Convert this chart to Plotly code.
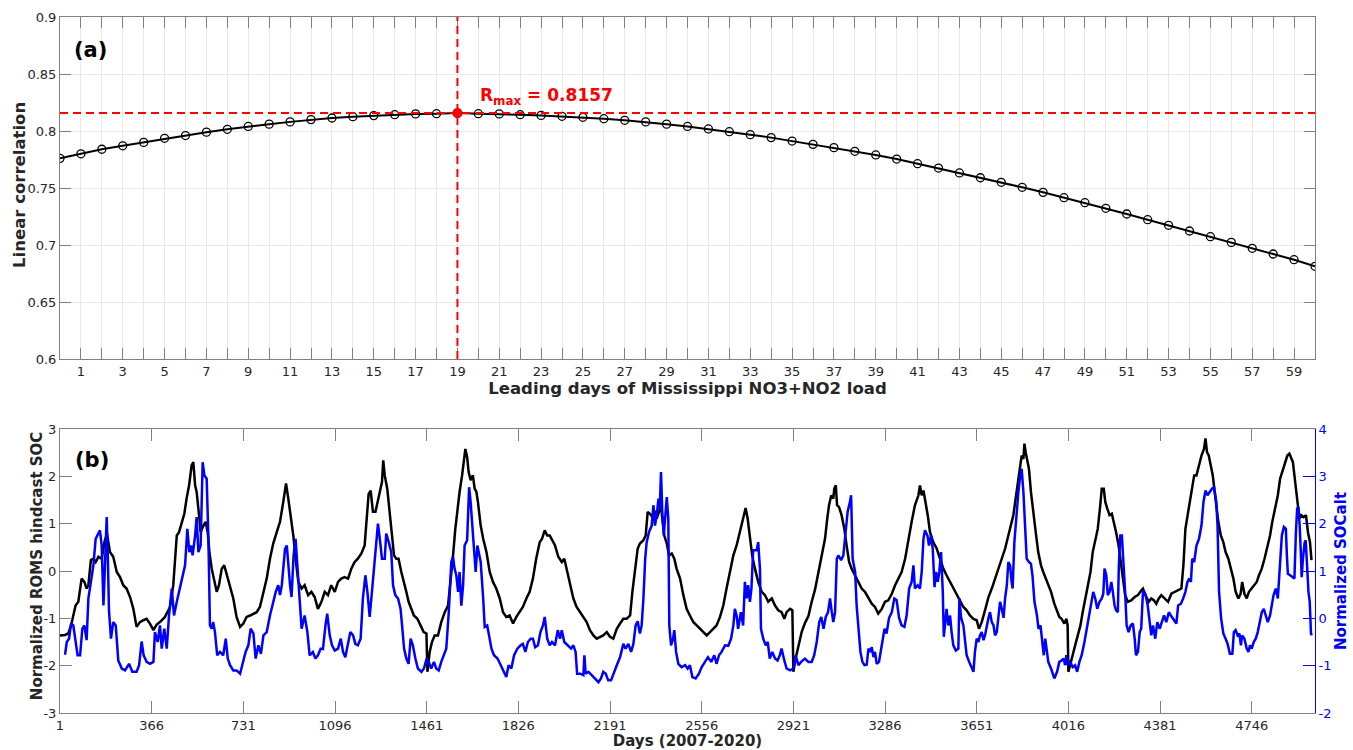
import plotly.graph_objects as go

# ---------------- panel (a) data ----------------
lead_days = list(range(0, 61))
lin_corr = [0.776, 0.780, 0.784, 0.787, 0.790, 0.7936, 0.796, 0.799, 0.8015, 0.804,
            0.806, 0.808, 0.810, 0.8114, 0.8126, 0.8135, 0.8143, 0.815, 0.8152, 0.8157,
            0.8152, 0.815, 0.8143, 0.8137, 0.8129, 0.812, 0.8108, 0.8094, 0.808, 0.806,
            0.804, 0.8018, 0.7994, 0.7968, 0.7942, 0.7912, 0.7883, 0.7854, 0.7822, 0.779,
            0.7754, 0.7713, 0.7675, 0.7632, 0.759, 0.755, 0.7506, 0.7462, 0.7415, 0.7371,
            0.7322, 0.7272, 0.7222, 0.7173, 0.7123, 0.7073, 0.7023, 0.6971, 0.6921, 0.6871,
            0.6813]
lead_ticktext = [str(d) if d % 2 == 1 else "" for d in lead_days]
corr_ticks = [0.6, 0.65, 0.7, 0.75, 0.8, 0.85, 0.9]

# ---------------- panel (b) data ----------------
soc_days = [1, 21, 34, 45, 54, 63, 74, 87, 98, 107, 114, 124, 134, 143, 154, 167, 178, 188, 200, 213,
            227, 240, 253, 266, 280, 293, 306, 319, 333, 346, 359, 373, 386, 399, 419, 439, 452, 466, 475, 486,
            496, 505, 515, 525, 532, 539, 545, 552, 561, 572, 581, 589, 596, 605, 616, 625, 634, 645, 655, 665,
            678, 691, 704, 718, 731, 744, 758, 771, 784, 797, 811, 824, 837, 850, 864, 877, 890, 901, 910, 919,
            930, 939, 950, 963,
            975, 989, 1002, 1015, 1028, 1042, 1055, 1068, 1081, 1095, 1108, 1121, 1134, 1148, 1161, 1174, 1187, 1201, 1214, 1220,
            1230, 1238, 1247, 1257, 1265, 1274, 1283, 1288, 1294, 1304, 1314, 1323, 1331, 1340, 1349, 1360, 1371, 1380, 1389, 1400,
            1410, 1424, 1437, 1449, 1460, 1464, 1473, 1482, 1493, 1506, 1519, 1533, 1546, 1555, 1566, 1575, 1583, 1592, 1602, 1610,
            1615, 1622, 1628, 1636, 1645, 1652, 1659, 1665, 1676, 1686, 1699, 1712, 1725, 1738, 1752, 1765, 1778, 1791, 1805, 1818,
            1831, 1844, 1858, 1871, 1884, 1897, 1911, 1920, 1931, 1941, 1951,
            1972, 1985, 1999, 2009, 2018, 2032, 2045, 2058, 2072, 2085, 2098, 2111, 2125, 2138, 2151, 2164, 2178, 2191, 2204, 2218,
            2231, 2244, 2257, 2271, 2280, 2290, 2301, 2310, 2324, 2333, 2341, 2350, 2360, 2367, 2377, 2386, 2394, 2399, 2407, 2417,
            2426, 2437, 2447, 2456, 2470, 2483, 2496, 2509, 2523, 2536, 2549, 2562, 2576, 2589, 2602, 2615, 2629, 2642, 2655, 2669,
            2682, 2695, 2708, 2722, 2731, 2739, 2748, 2757, 2768, 2781, 2795, 2808, 2821, 2835, 2848, 2861, 2874, 2885, 2894, 2908,
            2917, 2921, 2930, 2941, 2954,
            2967, 2981, 2994, 3007, 3021, 3034, 3047, 3056, 3063, 3072, 3080, 3084, 3090, 3095, 3103, 3113, 3124, 3133, 3143, 3153,
            3167, 3180, 3193, 3206, 3220, 3233, 3246, 3259, 3273, 3286, 3299, 3313, 3326, 3339, 3352, 3366, 3379, 3392, 3405, 3419,
            3425, 3432, 3439, 3445, 3456, 3465, 3478, 3492, 3505, 3518, 3531, 3545, 3558, 3571, 3585, 3598, 3611, 3624, 3638, 3651,
            3660, 3671, 3684, 3698, 3711, 3724, 3737, 3751, 3764, 3777, 3788, 3797, 3806, 3814, 3823, 3830, 3837, 3841, 3846, 3854,
            3859, 3867, 3877, 3886, 3896, 3907, 3916, 3926, 3936, 3947,
            3960, 3971, 3980, 3989, 4000, 4008, 4013, 4016, 4024, 4033, 4043, 4053, 4064, 4073, 4083, 4093, 4104, 4113, 4123, 4133,
            4143, 4149, 4157, 4163, 4171, 4180, 4189, 4197, 4206, 4216, 4224, 4233, 4242, 4253, 4266, 4280, 4293, 4306, 4313, 4320,
            4326, 4336, 4346, 4357, 4366, 4376, 4386, 4400, 4413, 4426, 4440, 4453, 4466, 4474, 4482, 4493, 4506, 4517, 4526, 4536,
            4546, 4556, 4562, 4568, 4575, 4583, 4591, 4597, 4605, 4613, 4623, 4633, 4642, 4653, 4663, 4673, 4682, 4693, 4702, 4708,
            4717, 4726, 4735, 4746, 4757, 4766, 4775, 4786, 4797, 4807, 4819, 4828, 4839, 4850, 4859, 4868, 4879, 4888, 4896, 4903,
            4910, 4916, 4923, 4930, 4936, 4943, 4952, 4962, 4970, 4978, 4984]
soc_vals = [-1.36, -1.35, -1.32, -1.15, -0.94, -0.73, -0.65, -0.16, -0.23, -0.37, -0.30, 0.23, 0.26, 0.19, 0.30, 0.26, 0.61, 0.79, 0.40, 0.30,
            -0.02, -0.13, -0.30, -0.37, -0.55, -0.80, -1.18, -1.08, -1.04, -1.01, -1.11, -1.25, -1.13, -1.08, -0.97, -0.76, -0.30, 0.75, 0.82, 1.04,
            1.21, 1.53, 1.81, 2.23, 2.30, 1.81, 1.67, 1.32, 0.82, 0.96, 1.04, 0.82, 0.40, 0.05, -0.23, -0.44, -0.30, 0.05, 0.12, -0.09,
            -0.37, -0.58, -0.97, -1.18, -1.11, -0.97, -0.94, -0.90, -0.87, -0.76, -0.44, -0.16, 0.26, 0.58, 0.82, 1.04, 1.46, 1.85, 1.53, 1.18,
            0.75, 0.26, -0.23, -0.37,
            -0.30, -0.51, -0.44, -0.55, -0.80, -0.65, -0.44, -0.51, -0.30, -0.44, -0.23, -0.16, -0.13, -0.16, 0.05, 0.19, 0.26, 0.37, 0.54, 0.96,
            1.63, 1.70, 1.25, 1.25, 1.46, 1.67, 1.88, 2.34, 2.02, 1.74, 1.25, 0.75, 0.33, 0.26, 0.26, -0.02, -0.23, -0.44, -0.65, -0.80,
            -0.94, -1.01, -1.15, -1.29, -1.32, -2.13, -1.71, -1.50, -1.36, -1.36, -1.08, -0.87, -0.73, -0.30, 0.33, 0.89, 1.32, 1.67, 2.02, 2.37,
            2.58, 2.41, 2.09, 1.92, 2.02, 1.74, 1.67, 1.46, 0.96, 0.68, 0.40, -0.02, -0.23, -0.37, -0.58, -0.87, -0.97, -0.94, -1.11, -0.97,
            -0.87, -0.76, -0.58, -0.44, -0.16, 0.26, 0.61, 0.68, 0.86, 0.75, 0.75,
            0.54, 0.30, 0.19, 0.26, 0.05, -0.30, -0.58, -0.76, -0.87, -0.97, -1.08, -1.25, -1.36, -1.43, -1.39, -1.36, -1.29, -1.39, -1.43, -1.22,
            -1.11, -1.01, -1.01, -0.94, -0.44, 0.05, 0.47, 0.58, 0.65, 0.75, 1.25, 1.21, 1.14, 1.28, 1.11, 1.25, 1.39, 1.11, 0.75, 0.58,
            0.33, 0.37, 0.26, 0.05, -0.16, -0.51, -0.80, -0.94, -1.08, -1.15, -1.22, -1.29, -1.36, -1.29, -1.22, -1.15, -0.97, -0.73, -0.37, -0.02,
            0.33, 0.54, 0.82, 1.18, 1.33, 1.11, 0.75, 0.33, 0.05, -0.23, -0.44, -0.51, -0.65, -0.58, -0.73, -0.83, -0.87, -1.01, -0.87, -0.80,
            -0.83, -2.13, -1.85, -1.57, -1.29,
            -1.10, -0.95, -0.65, -0.40, -0.02, 0.33, 0.68, 1.11, 1.39, 1.60, 1.53, 1.74, 1.81, 1.39, 1.35, 1.18, 0.89, 0.54, 0.19, 0.05,
            -0.09, -0.23, -0.37, -0.44, -0.58, -0.69, -0.76, -0.90, -0.80, -0.65, -0.62, -0.48, -0.30, -0.16, -0.02, 0.26, 0.68, 1.04, 1.39, 1.60,
            1.81, 1.60, 1.70, 1.53, 1.18, 0.82, 0.61, 0.47, 0.26, 0.05, -0.09, -0.23, -0.37, -0.51, -0.65, -0.76, -0.83, -0.94, -1.01, -1.04,
            -1.22, -1.08, -0.83, -0.55, -0.37, -0.16, 0.05, 0.30, 0.47, 0.75, 0.96, 1.18, 1.53, 1.81, 2.09, 2.44, 2.37, 2.69, 2.51, 2.23,
            2.16, 1.67, 1.18, 0.82, 0.40, 0.12, -0.02, -0.16, -0.30, -0.44,
            -0.69, -0.87, -0.97, -1.01, -1.11, -1.01, -1.15, -2.13, -1.99, -1.78, -1.57, -1.36, -1.15, -0.87, -0.58, -0.30, -0.02, 0.40, 0.68, 0.89,
            1.39, 1.74, 1.74, 1.46, 1.32, 1.18, 1.21, 1.04, 0.82, 0.54, 0.19, -0.23, -0.51, -0.65, -0.62, -0.55, -0.51, -0.41, -0.37, -0.48,
            -0.55, -0.65, -0.58, -0.62, -0.69, -0.58, -0.51, -0.58, -0.65, -0.48, -0.44, -0.41, -0.37, 0.12, 0.89, 1.25, 1.67, 2.02, 2.02, 2.23,
            2.44, 2.58, 2.80, 2.51, 2.44, 2.23, 2.02, 1.74, 1.39, 1.04, 0.75, 0.61, 0.40, 0.26, 0.05, -0.16, -0.44, -0.58, -0.48, -0.23,
            -0.48, -0.58, -0.44, -0.37, -0.30, -0.23, -0.09, 0.05, 0.26, 0.47, 0.75, 1.04, 1.32, 1.60, 1.95, 2.09, 2.27, 2.44, 2.48, 2.37,
            2.30, 2.02, 1.74, 1.39, 1.11, 1.18, 1.14, 1.18, 0.82, 0.61, 0.23]

socalt_days = [21, 28, 37, 45, 54, 63, 71, 81, 90, 98, 107, 114, 123, 134, 143, 154, 160, 167, 174, 180,
               187, 191, 196, 204, 213, 223, 233, 247, 260, 276, 289, 306, 316, 326, 334, 346, 359, 373, 379, 390,
               399, 406, 416, 426, 435, 446, 455, 466, 475, 486, 499, 508, 516, 523, 529, 539, 545, 552, 561, 569,
               576, 585, 592, 598, 605, 611, 618, 627, 638, 651, 661, 669, 678, 691, 704, 718, 727, 740, 751, 760,
               771, 780, 791, 801, 811, 824, 837, 850, 860, 870, 877, 884, 890, 897, 904, 910, 917, 923, 931, 939,
               947, 956, 963,
               975, 986, 995, 1008, 1018, 1028, 1039, 1048, 1058, 1065, 1075, 1084, 1095, 1108, 1119, 1128, 1137, 1148, 1157, 1168,
               1177, 1187, 1198, 1207, 1217, 1225, 1234, 1243, 1254, 1261, 1267, 1275, 1283, 1294, 1300, 1310, 1320, 1327, 1336, 1347,
               1357, 1363, 1371, 1380, 1389, 1397, 1406, 1416, 1426, 1440, 1450, 1461, 1469, 1479, 1490, 1499, 1509, 1519, 1530, 1539,
               1549, 1559, 1566, 1572, 1579, 1586, 1592, 1599, 1606, 1612, 1622, 1630, 1636, 1643, 1650, 1656, 1663, 1668, 1676, 1686,
               1692, 1702, 1710, 1719, 1729, 1743, 1756, 1769, 1778, 1787, 1798, 1809, 1822, 1835, 1844, 1854, 1864, 1875, 1884, 1893,
               1904, 1914, 1924, 1931, 1941, 1951, 1960,
               1972, 1983, 1992, 1999, 2009, 2023, 2036, 2045, 2054, 2060, 2072, 2085, 2089, 2094, 2105, 2118, 2131, 2145, 2155, 2164,
               2174, 2184, 2195, 2204, 2218, 2231, 2244, 2253, 2264, 2275, 2284, 2293, 2301, 2310, 2317, 2324, 2331, 2337, 2346, 2357,
               2364, 2370, 2377, 2384, 2389, 2394, 2399, 2405, 2410, 2417, 2423, 2427, 2434, 2442, 2447, 2454, 2463, 2476, 2490, 2500,
               2509, 2519, 2532, 2545, 2556, 2569, 2581, 2594, 2606, 2615, 2625, 2635, 2649, 2662, 2673, 2682, 2688, 2695, 2701, 2712,
               2721, 2728, 2735, 2741, 2748, 2754, 2761, 2768, 2775, 2781, 2788, 2792, 2801, 2811, 2819, 2827, 2837, 2848, 2858, 2867,
               2874, 2885, 2894, 2908, 2921, 2930, 2941, 2952,
               2967, 2981, 2994, 3004, 3014, 3024, 3032, 3041, 3050, 3059, 3067, 3074, 3080, 3087, 3094, 3100, 3111, 3120, 3127, 3137,
               3146, 3151, 3157, 3167, 3173, 3180, 3188, 3196, 3204, 3213, 3220, 3227, 3233, 3240, 3246, 3253, 3262, 3273, 3284, 3292,
               3302, 3313, 3323, 3332, 3342, 3352, 3363, 3372, 3382, 3392, 3399, 3405, 3416, 3425, 3432, 3439, 3445, 3455, 3461, 3469,
               3476, 3483, 3489, 3496, 3502, 3509, 3516, 3520, 3525, 3531, 3538, 3545, 3551, 3558, 3568, 3578, 3582, 3589, 3598, 3605,
               3611, 3621, 3631, 3638, 3644, 3651, 3658, 3664, 3671, 3678, 3684, 3691, 3698, 3704, 3711, 3718, 3724, 3731, 3737, 3744,
               3751, 3758, 3764, 3771, 3777, 3784, 3790, 3794, 3801, 3810, 3817, 3823, 3830, 3837, 3844, 3850, 3859, 3867, 3873, 3881,
               3891, 3897, 3905, 3913, 3918, 3924, 3930, 3936, 3947,
               3960, 3971, 3980, 3989, 3997, 4003, 4008, 4013, 4020, 4027, 4033, 4043, 4051, 4060, 4069, 4080, 4091, 4100, 4107, 4115,
               4123, 4131, 4140, 4149, 4155, 4160, 4167, 4173, 4180, 4187, 4193, 4200, 4206, 4213, 4217, 4223, 4229, 4236, 4242, 4248,
               4256, 4264, 4273, 4280, 4285, 4293, 4300, 4306, 4313, 4318, 4324, 4332, 4340, 4346, 4353, 4362, 4370, 4380, 4386, 4397,
               4406, 4416, 4424, 4433, 4440, 4446, 4453, 4464, 4473, 4482, 4490, 4497, 4504, 4509, 4517, 4526, 4536, 4546, 4554, 4562,
               4570, 4579, 4588, 4596, 4605, 4610, 4616, 4624, 4633, 4642, 4650, 4659, 4669, 4675, 4682, 4690, 4697, 4703, 4708, 4717,
               4726, 4733, 4739, 4746, 4754, 4762, 4770, 4778, 4786, 4794, 4802, 4810, 4819, 4826, 4833, 4842, 4850, 4855, 4860, 4866,
               4874, 4882, 4886, 4890, 4899, 4908, 4916, 4922, 4927, 4932, 4937, 4942, 4945, 4950, 4957, 4961, 4966, 4972, 4977, 4980,
               4982, 4985]
socalt_vals = [-0.77, -0.50, -0.43, -0.11, -0.15, -0.50, -0.78, -0.78, -0.22, -0.15, -0.46, 0.42, 0.77, 1.12, 1.68, 1.82, 1.86, 1.54, 0.27, 1.12,
               2.14, 1.40, 0.17, -0.43, -0.08, -0.15, -0.89, -1.06, -1.10, -0.96, -1.13, -1.13, -0.99, -0.49, -0.78, -0.92, -0.96, -0.92, -0.29, -0.50,
               -0.15, -0.64, -0.22, -0.64, 0.06, 0.63, 0.06, 0.35, 0.56, 0.77, 1.12, 1.89, 1.40, 1.54, 1.33, 1.75, 2.14, 1.40, 1.54, 3.30,
               3.02, 2.95, 1.68, -0.15, -0.22, -0.08, -0.29, -0.78, -0.71, -0.78, -0.43, -0.85, -0.99, -1.10, -1.10, -1.17, -0.99, -0.71, -0.57, -0.22,
               -0.32, -0.85, -0.57, -0.75, -0.36, -0.29, 0.06, 0.35, 0.56, 0.70, 0.49, 0.70, 1.12, 1.47, 1.54, 1.12, 0.70, 0.45, 1.33, 1.68,
               0.98, 0.45, -0.22,
               0.06, -0.29, -0.78, -0.71, -0.85, -0.78, -0.64, -0.65, -0.15, 0.10, -0.36, -0.57, -0.68, -0.64, -0.43, -0.71, -0.82, -0.50, -0.29, -0.36,
               -0.54, -0.57, -0.43, 0.42, 0.91, 0.56, 0.03, 0.56, 1.26, 1.75, 2.00, 1.65, 1.26, 1.26, 1.79, 1.61, 1.40, 0.70, 0.49, 0.42,
               0.20, -0.15, -0.64, -0.85, -0.96, -0.43, -0.57, -0.85, -1.06, -1.13, -1.06, -0.85, -0.92, -1.06, -0.92, -1.06, -1.10, -0.92, -0.78, -0.64,
               0.13, 1.19, 1.30, 1.05, 0.91, 0.56, 0.98, 0.27, 0.70, 1.54, 1.65, 2.77, 2.46, 1.96, 1.61, 0.98, 1.54, 1.40, 1.19, 0.42,
               -0.18, -0.15, -0.43, -0.64, -0.78, -0.85, -0.99, -1.13, -1.24, -0.99, -1.06, -0.78, -0.64, -0.57, -0.54, -0.71, -0.50, -0.43, -0.43, -0.61,
               -0.57, -0.29, -0.15, 0.03, -0.43, -0.57, -0.50,
               -0.57, -0.25, -0.43, -0.25, -0.50, -0.57, -0.64, -0.57, -0.71, -1.17, -1.17, -1.20, -0.78, -1.17, -1.13, -1.20, -1.27, -1.35, -1.27, -1.13,
               -1.17, -1.31, -1.31, -1.17, -0.99, -0.82, -0.54, -0.64, -0.54, -0.71, -0.54, -0.15, -0.06, -0.32, -0.15, 0.42, 1.26, 1.61, 1.82, 1.96,
               2.39, 1.96, 2.18, 2.53, 2.32, 3.09, 2.25, 1.75, 2.11, 2.56, 2.11, -0.15, -0.57, -0.43, -0.25, -0.71, -0.96, -1.03, -0.99, -1.06,
               -0.99, -1.24, -1.27, -1.17, -1.03, -0.92, -0.82, -0.92, -0.78, -0.96, -0.78, -0.71, -0.57, -0.58, -0.43, -0.15, 0.20, 0.06, -0.22, 0.13,
               -0.15, 0.77, 0.42, 0.70, 0.35, 0.63, 1.44, 1.44, 1.44, 1.61, 1.05, -0.22, -0.43, -0.57, -0.50, -0.85, -0.71, -0.85, -0.89, -0.78,
               -0.64, -0.89, -1.06, -1.10, -1.06, -0.78, -0.99, -0.92,
               -0.85, -0.92, -0.92, -0.78, -0.50, -0.08, 0.03, -0.22, 0.03, 0.13, 0.42, 0.13, -0.08, 0.13, 1.26, 1.33, 1.23, 1.33, 1.75, 2.25,
               2.46, 2.60, 1.26, 0.98, 0.27, -0.29, -0.71, -0.92, -0.99, -0.98, -0.64, -0.71, -0.61, -0.82, -0.71, -0.96, -0.92, -0.57, -0.22, -0.32,
               0.01, 0.13, 0.42, 0.39, 0.01, -0.15, -0.18, 0.06, 0.63, 0.77, 1.12, 0.63, 0.70, 0.63, 0.98, 1.68, 1.86, 1.75, 1.54, 1.75,
               1.47, 0.66, 0.98, 0.77, 0.98, 1.40, 0.56, -0.39, -0.15, 0.20, -0.15, 0.06, -0.29, -0.57, -0.68, -0.64, 0.42, 0.01, -0.15, -0.43,
               -0.78, -0.92, -1.06, -1.13, -0.71, -0.43, -0.50, -0.36, -0.29, -0.46, -0.36, -0.15, 0.01, 0.13, -0.08, -0.15, -0.36, -0.29, 0.01, 0.35,
               0.20, 0.01, 0.42, 0.70, 1.19, 1.12, 0.77, 0.63, 1.61, 2.25, 2.67, 2.95, 3.16, 2.67, 1.75, 1.26, 1.19, 1.15, 0.91, 0.35,
               0.06, -0.22, -0.15, -0.50, -0.78, -0.43, -0.64, -0.92, -1.06,
               -1.27, -1.13, -0.92, -0.89, -0.85, -0.99, -0.78, -0.99, -0.92, -0.96, -1.03, -0.99, -1.13, -0.92, -0.78, -0.50, -0.15, 0.13, 0.35, 0.56,
               0.42, 0.20, 0.35, 0.42, 0.52, 1.05, 0.91, 0.49, 0.56, 0.77, 0.56, 0.27, 0.17, 0.13, 1.12, 1.75, 1.75, 1.19, 0.56, -0.15,
               -0.29, -0.15, -0.11, -0.43, -0.78, -0.71, -0.29, -0.22, 0.56, 0.56, 0.49, 0.27, -0.08, -0.36, -0.15, -0.43, -0.08, -0.22, -0.11, 0.06,
               -0.08, 0.13, 0.06, -0.01, -0.08, -0.11, 0.27, 0.31, 0.42, 0.56, 0.77, 0.84, 0.77, 1.26, 1.19, 1.54, 1.68, 1.96, 2.46, 2.70,
               2.60, 2.67, 2.74, 2.77, 2.46, 1.96, 0.56, 0.01, -0.32, -0.43, -0.54, -0.75, -0.75, -0.29, -0.25, -0.36, -0.32, -0.57, -0.36, -0.43,
               -0.64, -0.71, -0.57, -0.64, -0.50, -0.43, -0.29, -0.08, 0.13, 0.20, 0.06, -0.08, 0.06, 0.31, 0.49, 0.63, 0.42, 0.84, 1.40, 1.75,
               1.93, 1.89, 1.33, 0.94, 0.91, 0.87, 0.84, 1.82, 2.32, 2.35, 1.96, 1.33, 0.87, 1.26, 1.61, 1.65, 1.12, 0.56, 0.35, -0.08,
               -0.32, -0.36]

day_ticks = [1, 366, 731, 1096, 1461, 1826, 2191, 2556, 2921, 3286, 3651, 4016, 4381, 4746]
soc_ticks = [-3, -2, -1, 0, 1, 2, 3]
socalt_ticks = [-2, -1, 0, 1, 2, 3, 4]

# ---------------- derived values ----------------
best_idx = max(range(len(lin_corr)), key=lambda i: lin_corr[i])
best_lead = lead_days[best_idx]
r_max = lin_corr[best_idx]

FONT = "DejaVu Sans"
AX = "#808080"
TXT = "#262626"
RED = "#ff0000"
BLUE = "#0000ff"

fig = go.Figure()

# panel (a)
fig.add_trace(go.Scatter(x=lead_days, y=lin_corr, mode="lines+markers",
                         line=dict(color="black", width=2),
                         marker=dict(symbol="circle-open", size=8, color="black",
                                     line=dict(width=1.3, color="black")),
                         xaxis="x", yaxis="y", showlegend=False))
fig.add_trace(go.Scatter(x=[best_lead], y=[r_max], mode="markers",
                         marker=dict(symbol="circle", size=10, color=RED),
                         xaxis="x", yaxis="y", showlegend=False))

fig.add_shape(type="line", xref="x", yref="y", x0=best_lead, x1=best_lead,
              y0=corr_ticks[0], y1=corr_ticks[-1], line=dict(color=RED, width=2, dash="8px,5px"))
fig.add_shape(type="line", xref="x", yref="y", x0=lead_days[0], x1=lead_days[-1],
              y0=r_max, y1=r_max, line=dict(color=RED, width=2, dash="8px,5px"))

# panel (b)
fig.add_trace(go.Scatter(x=soc_days, y=soc_vals, mode="lines",
                         line=dict(color="black", width=2.5),
                         xaxis="x2", yaxis="y2", showlegend=False))
fig.add_trace(go.Scatter(x=socalt_days, y=socalt_vals, mode="lines",
                         line=dict(color=BLUE, width=2.5),
                         xaxis="x2", yaxis="y3", showlegend=False))

tickfont = dict(family=FONT, size=13, color=TXT)
titlefont_a = dict(family=FONT, size=16.5, color=TXT)
titlefont_b = dict(family=FONT, size=15, color=TXT)

fig.update_layout(
    width=1353, height=750,
    margin=dict(l=60, r=38, t=17, b=37),
    paper_bgcolor="white", plot_bgcolor="white",
    font=dict(family=FONT, color=TXT),
    xaxis=dict(domain=[0, 1], anchor="y", range=[lead_days[0], lead_days[-1]],
               tickmode="array", tickvals=lead_days, ticktext=lead_ticktext,
               ticks="inside", ticklen=11, tickcolor=AX, tickwidth=1,
               showline=True, linecolor=AX, linewidth=1, mirror="ticks",
               showgrid=True, gridcolor="#e8e8e8", gridwidth=1, zeroline=False,
               tickfont=tickfont, automargin=False,
               title=dict(text="<b>Leading days of Mississippi NO3+NO2 load</b>",
                          font=titlefont_a, standoff=3)),
    yaxis=dict(domain=[0.5086, 1], anchor="x", range=[corr_ticks[0], corr_ticks[-1]],
               tickmode="array", tickvals=corr_ticks, ticktext=["%g" % v for v in corr_ticks],
               ticks="inside", ticklen=11, tickcolor=AX, tickwidth=1,
               showline=True, linecolor=AX, linewidth=1, mirror="ticks",
               showgrid=True, gridcolor="#e8e8e8", gridwidth=1, zeroline=False,
               tickfont=tickfont, automargin=False),
    xaxis2=dict(domain=[0, 1], anchor="y2", range=[1, 4998],
                tickmode="array", tickvals=day_ticks, ticktext=[str(t) for t in day_ticks],
                ticks="inside", ticklen=12, tickcolor=AX, tickwidth=1,
                showline=True, linecolor=AX, linewidth=1, mirror="ticks",
                showgrid=False, zeroline=False, tickfont=tickfont, automargin=False,
                title=dict(text="<b>Days (2007-2020)</b>", font=titlefont_b, standoff=3)),
    yaxis2=dict(domain=[0, 0.408], anchor="x2", range=[soc_ticks[0], soc_ticks[-1]],
                tickmode="array", tickvals=soc_ticks, ticktext=[str(t) for t in soc_ticks],
                ticks="inside", ticklen=12, tickcolor=AX, tickwidth=1,
                showline=True, linecolor=AX, linewidth=1, mirror=False,
                showgrid=False, zeroline=False, tickfont=tickfont, automargin=False),
    yaxis3=dict(overlaying="y2", anchor="x2", side="right",
                range=[socalt_ticks[0], socalt_ticks[-1]],
                tickmode="array", tickvals=socalt_ticks, ticktext=[str(t) for t in socalt_ticks],
                ticks="inside", ticklen=12, tickcolor=BLUE, tickwidth=1,
                showline=True, linecolor=BLUE, linewidth=1,
                showgrid=False, zeroline=False,
                tickfont=dict(family=FONT, size=13, color=BLUE), automargin=False,
                title=dict(text="<b>Normalized SOCalt</b>",
                           font=dict(family=FONT, size=15, color=BLUE), standoff=4)),
    annotations=[
        dict(text="<b>Linear correlation</b>", xref="paper", yref="paper",
             x=-0.0327, y=0.7586, xanchor="center", yanchor="middle", textangle=-90,
             showarrow=False, font=titlefont_a),
        dict(text="<b>Normalized ROMS hindcast SOC</b>", xref="paper", yref="paper",
             x=-0.0183, y=0.211, xanchor="center", yanchor="middle", textangle=-90,
             showarrow=False, font=titlefont_b),
        dict(text="<b>(a)</b>", xref="paper", yref="paper", x=0.0096, y=0.953,
             xanchor="left", yanchor="middle", showarrow=False,
             font=dict(family=FONT, size=21, color="black")),
        dict(text="<b>(b)</b>", xref="paper", yref="paper", x=0.0104, y=0.3635,
             xanchor="left", yanchor="middle", showarrow=False,
             font=dict(family=FONT, size=21, color="black")),
        dict(text="<b>R<sub>max</sub> = %.4f</b>" % r_max, xref="x", yref="paper",
             x=best_lead + 1, y=0.886, xanchor="left", yanchor="middle", showarrow=False,
             font=dict(family=FONT, size=17, color=RED)),
    ],
)

fig.write_html("out.html")
